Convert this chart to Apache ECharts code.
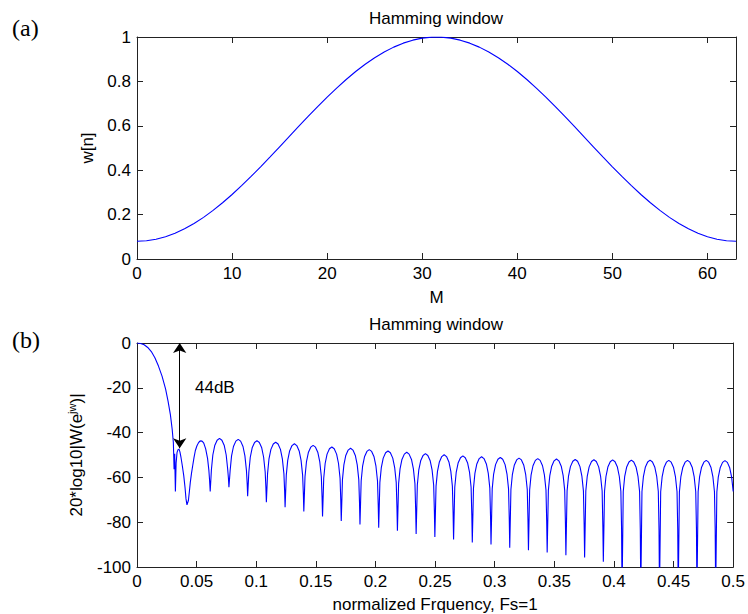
<!DOCTYPE html>
<html><head><meta charset="utf-8">
<script src="https://cdn.jsdelivr.net/npm/echarts@6/dist/echarts.min.js"></script>
<style>html,body{margin:0;padding:0;background:#fff}#c{width:748px;height:614px}</style>
</head><body><div id="c"></div>
<script>
// ---- data ----
const sampleIndex = [0,1,2,3,4,5,6,7,8,9,10,11,12,13,14,15,16,17,18,19,20,21,22,23,24,25,26,27,28,29,30,31,
  32,33,34,35,36,37,38,39,40,41,42,43,44,45,46,47,48,49,50,51,52,53,54,55,56,57,58,59,60,61,62,63];
const hammingValues = [0.0800,0.0823,0.0891,0.1004,0.1161,0.1360,0.1599,0.1876,0.2189,0.2532,0.2905,0.3303,0.3719,0.4154,0.4601,0.5056,
  0.5515,0.5972,0.6424,0.6865,0.7292,0.7700,0.8085,0.8444,0.8772,0.9067,0.9325,0.9544,0.9723,0.9858,0.9949,0.9994,
  0.9994,0.9949,0.9858,0.9723,0.9544,0.9325,0.9067,0.8772,0.8444,0.8085,0.7700,0.7292,0.6865,0.6424,0.5972,0.5515,
  0.5056,0.4601,0.4154,0.3719,0.3303,0.2905,0.2532,0.2189,0.1876,0.1599,0.1360,0.1161,0.1004,0.0891,0.0823,0.0800];

// frequency response [normalized frequency, dB]
const responsePoints = [
  [0,0],[0.003,-0.2],[0.006,-0.8],[0.009,-2.0],[0.012,-3.8],[0.015,-6.6],[0.018,-10.3],[0.021,-14.8],[0.024,-20.6],[0.026,-25.8],[0.028,-32.0],[0.0295,-38.5],[0.0305,-44.5],[0.0311,-56.3],[0.0316,-49.5],
  [0.0322,-66.3],[0.0328,-53.5],[0.0336,-48.8],[0.0344,-47.6],[0.0352,-47.4],[0.0360,-48.6],[0.0369,-51.1],[0.0380,-54.8],[0.0392,-59.2],[0.0403,-64.6],[0.0411,-69.6],[0.0419,-72.3],[0.0431,-70.3],[0.0439,-66.4],[0.0447,-62.2],[0.0457,-58.2],[0.0467,-54.8],[0.0478,-51.2],[0.0489,-48.1],[0.0502,-46.0],[0.0514,-44.7],[0.0525,-43.9],[0.0536,-43.7],[0.0548,-43.9],[0.0560,-44.7],[0.0576,-47.3],[0.0592,-51.6],[0.0603,-57.0],[0.0609,-61.5],[0.0614,-66.3],
  [0.0624,-56.6],[0.0636,-50.0],[0.0652,-45.8],[0.0672,-43.4],[0.0692,-42.6],[0.0712,-43.4],[0.0732,-45.8],[0.0748,-50.0],[0.0761,-56.6],[0.0767,-60.5],[0.0771,-64.4],
  [0.0781,-57.0],[0.0793,-50.4],[0.0809,-46.2],[0.0829,-43.8],[0.0849,-43.0],[0.0869,-43.8],[0.0889,-46.2],[0.0905,-50.4],[0.0918,-57.0],[0.0924,-62.7],[0.0928,-68.4],
  [0.0938,-57.6],[0.0950,-51.0],[0.0966,-46.8],[0.0986,-44.4],[0.1006,-43.6],[0.1026,-44.4],[0.1046,-46.8],[0.1062,-51.0],[0.1075,-57.6],[0.1081,-64.4],[0.1085,-71.1],
  [0.1095,-58.3],[0.1107,-51.7],[0.1123,-47.5],[0.1143,-45.1],[0.1163,-44.3],[0.1183,-45.1],[0.1203,-47.5],[0.1219,-51.7],[0.1232,-58.3],[0.1238,-65.8],[0.1242,-73.3],
  [0.1252,-59.0],[0.1264,-52.4],[0.1280,-48.2],[0.1300,-45.8],[0.1320,-45.0],[0.1340,-45.8],[0.1360,-48.2],[0.1376,-52.4],[0.1389,-59.0],[0.1395,-67.1],[0.1399,-75.2],
  [0.1409,-59.7],[0.1421,-53.1],[0.1437,-48.9],[0.1457,-46.5],[0.1477,-45.7],[0.1497,-46.5],[0.1517,-48.9],[0.1533,-53.1],[0.1546,-59.7],[0.1552,-68.6],[0.1556,-77.4],
  [0.1566,-60.4],[0.1578,-53.8],[0.1594,-49.6],[0.1614,-47.2],[0.1634,-46.4],[0.1654,-47.2],[0.1674,-49.6],[0.1690,-53.8],[0.1703,-60.4],[0.1709,-70.0],[0.1713,-79.5],
  [0.1723,-61.0],[0.1735,-54.4],[0.1751,-50.2],[0.1771,-47.8],[0.1791,-47.0],[0.1811,-47.8],[0.1831,-50.2],[0.1847,-54.4],[0.1860,-61.0],[0.1866,-71.0],[0.1870,-81.0],
  [0.1880,-61.6],[0.1892,-55.0],[0.1908,-50.8],[0.1928,-48.4],[0.1948,-47.6],[0.1968,-48.4],[0.1988,-50.8],[0.2004,-55.0],[0.2017,-61.6],[0.2023,-72.1],[0.2027,-82.5],
  [0.2037,-62.2],[0.2049,-55.6],[0.2065,-51.4],[0.2085,-49.0],[0.2105,-48.2],[0.2125,-49.0],[0.2145,-51.4],[0.2161,-55.6],[0.2174,-62.2],[0.2180,-73.0],[0.2184,-83.8],
  [0.2194,-62.8],[0.2206,-56.2],[0.2222,-52.0],[0.2242,-49.6],[0.2262,-48.8],[0.2282,-49.6],[0.2302,-52.0],[0.2318,-56.2],[0.2331,-62.8],[0.2337,-74.1],[0.2341,-85.3],
  [0.2351,-63.4],[0.2363,-56.8],[0.2379,-52.6],[0.2399,-50.2],[0.2419,-49.4],[0.2439,-50.2],[0.2459,-52.6],[0.2475,-56.8],[0.2488,-63.4],[0.2494,-75.0],[0.2498,-86.6],
  [0.2508,-63.9],[0.2520,-57.3],[0.2536,-53.1],[0.2556,-50.7],[0.2576,-49.9],[0.2596,-50.7],[0.2616,-53.1],[0.2632,-57.3],[0.2645,-63.9],[0.2651,-75.8],[0.2655,-87.7],
  [0.2665,-64.4],[0.2677,-57.8],[0.2693,-53.6],[0.2713,-51.2],[0.2733,-50.4],[0.2753,-51.2],[0.2773,-53.6],[0.2789,-57.8],[0.2802,-64.4],[0.2808,-76.8],[0.2812,-89.1],
  [0.2822,-64.8],[0.2834,-58.2],[0.2850,-54.0],[0.2870,-51.6],[0.2890,-50.8],[0.2910,-51.6],[0.2930,-54.0],[0.2946,-58.2],[0.2959,-64.8],[0.2965,-77.4],[0.2969,-90.0],
  [0.2979,-65.1],[0.2991,-58.5],[0.3007,-54.3],[0.3027,-51.9],[0.3047,-51.1],[0.3067,-51.9],[0.3087,-54.3],[0.3103,-58.5],[0.3116,-65.1],[0.3122,-78.3],[0.3126,-91.4],
  [0.3136,-65.4],[0.3148,-58.8],[0.3164,-54.6],[0.3184,-52.2],[0.3204,-51.4],[0.3224,-52.2],[0.3244,-54.6],[0.3260,-58.8],[0.3273,-65.4],[0.3279,-79.0],[0.3283,-92.5],
  [0.3293,-65.6],[0.3305,-59.0],[0.3321,-54.8],[0.3341,-52.4],[0.3361,-51.6],[0.3381,-52.4],[0.3401,-54.8],[0.3417,-59.0],[0.3430,-65.6],[0.3436,-79.6],[0.3440,-93.5],
  [0.3450,-65.8],[0.3462,-59.2],[0.3478,-55.0],[0.3498,-52.6],[0.3518,-51.8],[0.3538,-52.6],[0.3558,-55.0],[0.3574,-59.2],[0.3587,-65.8],[0.3593,-80.3],[0.3597,-94.8],
  [0.3607,-66.0],[0.3619,-59.4],[0.3635,-55.2],[0.3655,-52.8],[0.3675,-52.0],[0.3695,-52.8],[0.3715,-55.2],[0.3731,-59.4],[0.3744,-66.0],[0.3750,-80.9],[0.3754,-95.8],
  [0.3764,-66.1],[0.3776,-59.5],[0.3792,-55.3],[0.3812,-52.9],[0.3832,-52.1],[0.3852,-52.9],[0.3872,-55.3],[0.3888,-59.5],[0.3901,-66.1],[0.3907,-81.9],[0.3911,-97.7],
  [0.3921,-66.2],[0.3933,-59.6],[0.3949,-55.4],[0.3969,-53.0],[0.3989,-52.2],[0.4009,-53.0],[0.4029,-55.4],[0.4045,-59.6],[0.4058,-66.2],[0.4064,-83.0],[0.4068,-112],
  [0.4078,-66.3],[0.4090,-59.7],[0.4106,-55.5],[0.4126,-53.1],[0.4146,-52.3],[0.4166,-53.1],[0.4186,-55.5],[0.4202,-59.7],[0.4215,-66.3],[0.4221,-83.2],[0.4225,-112],
  [0.4235,-66.3],[0.4247,-59.7],[0.4263,-55.5],[0.4283,-53.1],[0.4303,-52.3],[0.4323,-53.1],[0.4343,-55.5],[0.4359,-59.7],[0.4372,-66.3],[0.4378,-83.2],[0.4382,-112],
  [0.4392,-66.4],[0.4404,-59.8],[0.4420,-55.6],[0.4440,-53.2],[0.4460,-52.4],[0.4480,-53.2],[0.4500,-55.6],[0.4516,-59.8],[0.4529,-66.4],[0.4535,-83.2],[0.4539,-112],
  [0.4549,-66.4],[0.4561,-59.8],[0.4577,-55.6],[0.4597,-53.2],[0.4617,-52.4],[0.4637,-53.2],[0.4657,-55.6],[0.4673,-59.8],[0.4686,-66.4],[0.4692,-83.2],[0.4696,-112],
  [0.4706,-66.4],[0.4718,-59.8],[0.4734,-55.6],[0.4754,-53.2],[0.4774,-52.4],[0.4794,-53.2],[0.4814,-55.6],[0.4830,-59.8],[0.4843,-66.4],[0.4849,-83.2],[0.4853,-112],
  [0.4863,-66.5],[0.4875,-59.9],[0.4891,-55.7],[0.4911,-53.3],[0.4931,-52.5],[0.4951,-53.3],[0.4971,-55.7],[0.4987,-59.9],[0.5000,-66.3]
];

// tick values
const topXTicks = [0,10,20,30,40,50,60];
const topXMax = 63;
const topYTicks = [0,0.2,0.4,0.6,0.8,1];
const botXTicks = [0,0.05,0.1,0.15,0.2,0.25,0.3,0.35,0.4,0.45,0.5];
const botYTicks = [-100,-80,-60,-40,-20,0];
// annotation: arrow from 0 dB down to the first side-lobe level
const arrowFreq = 0.0358;
const arrowTopDb = 0;
const arrowBottomDb = -47;

// ---- chart ----
const FONT = 'Liberation Sans, Arial, sans-serif';
const FS = 17;
const AX = '#222';
const chart = echarts.init(document.getElementById('c'), null, {renderer: 'svg'});

function axisBase(ticks, withLabels, pos, gridIndex, extra) {
  const o = {
    type: 'value', gridIndex: gridIndex, position: pos,
    min: ticks[0], max: ticks[ticks.length - 1], interval: ticks[1] - ticks[0],
    splitLine: {show: false},
    axisLine: {show: true, onZero: false, lineStyle: {color: AX, width: 1}},
    axisTick: {show: true, inside: true, length: 6, lineStyle: {color: AX, width: 1}},
    axisLabel: {show: withLabels, color: '#000', fontFamily: FONT, fontSize: FS, margin: 6,
      formatter: function (v) { return String(+v.toFixed(2)); }},
    nameTextStyle: {color: '#000', fontFamily: FONT, fontSize: FS}
  };
  return Object.assign(o, extra || {});
}

const option = {
  animation: false,
  backgroundColor: '#fff',
  grid: [
    {left: 137, top: 37, width: 599, height: 222, containLabel: false},
    {left: 137, top: 343, width: 599, height: 224, containLabel: false}
  ],
  xAxis: [
    axisBase(topXTicks, true, 'bottom', 0, {max: topXMax, name: 'M', nameLocation: 'middle', nameGap: 30,
      axisLabel: {show: true, color: '#000', fontFamily: FONT, fontSize: FS, margin: 6, showMaxLabel: false}}),
    axisBase(topXTicks, false, 'top', 0, {max: topXMax}),
    axisBase(botXTicks, true, 'bottom', 1, {name: 'normalized Frquency, Fs=1', nameLocation: 'middle', nameGap: 29}),
    axisBase(botXTicks, false, 'top', 1)
  ],
  yAxis: [
    axisBase(topYTicks, true, 'left', 0, {name: 'w[n]', nameLocation: 'middle', nameGap: 37}),
    axisBase(topYTicks, false, 'right', 0),
    axisBase(botYTicks, true, 'left', 1, {name: '20*log10|W(e{sup|jw})|', nameLocation: 'middle', nameGap: 47,
      nameTextStyle: {color: '#000', fontFamily: FONT, fontSize: FS, lineHeight: 20,
        rich: {sup: {fontFamily: FONT, fontSize: 11, verticalAlign: 'top', lineHeight: 20, color: '#000'}}}}),
    axisBase(botYTicks, false, 'right', 1)
  ],
  series: [
    {type: 'line', xAxisIndex: 0, yAxisIndex: 0, showSymbol: false, symbol: 'none',
      lineStyle: {color: '#0000ff', width: 1.1}, data: sampleIndex.map(function (n, i) { return [n, hammingValues[i]]; })},
    {type: 'line', xAxisIndex: 2, yAxisIndex: 2, showSymbol: false, symbol: 'none', clip: true,
      lineStyle: {color: '#0000ff', width: 1.1}, data: responsePoints,
      markLine: {silent: true, symbol: ['arrow', 'arrow'], symbolSize: 10, animation: false,
        label: {show: false}, lineStyle: {color: '#000', width: 1, type: 'solid'},
        emphasis: {disabled: true},
        data: [[{coord: [arrowFreq, arrowTopDb]}, {coord: [arrowFreq, arrowBottomDb]}]]}}
  ],
  graphic: [
    {type: 'text', x: 436, y: 18, style: {text: 'Hamming window', fontFamily: FONT, fontSize: FS, fill: '#000', textAlign: 'center', textVerticalAlign: 'middle'}},
    {type: 'text', x: 436, y: 324, style: {text: 'Hamming window', fontFamily: FONT, fontSize: FS, fill: '#000', textAlign: 'center', textVerticalAlign: 'middle'}},
    {type: 'text', x: 12, y: 28, style: {text: '(a)', fontFamily: 'Liberation Serif, Times New Roman, serif', fontSize: 24, fill: '#000', textAlign: 'left', textVerticalAlign: 'middle'}},
    {type: 'text', x: 12, y: 340, style: {text: '(b)', fontFamily: 'Liberation Serif, Times New Roman, serif', fontSize: 24, fill: '#000', textAlign: 'left', textVerticalAlign: 'middle'}},
    {type: 'text', x: 195, y: 387, style: {text: '44dB', fontFamily: FONT, fontSize: FS, fill: '#000', textAlign: 'left', textVerticalAlign: 'middle'}}
  ]
};
chart.setOption(option);
</script>
</body></html>
